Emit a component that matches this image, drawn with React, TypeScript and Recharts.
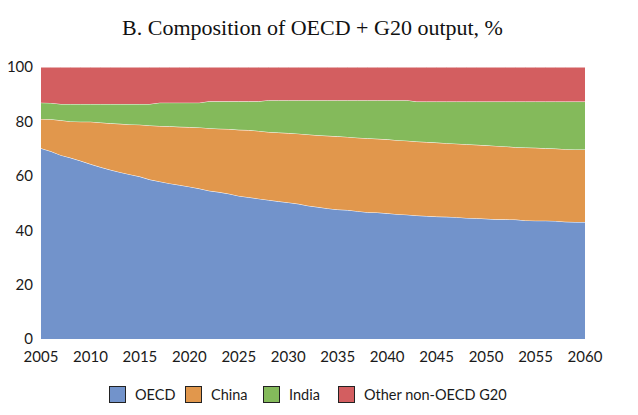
import { Area, AreaChart, XAxis, YAxis } from "recharts";

const years = [
  2005, 2006, 2007, 2008, 2009, 2010, 2011, 2012, 2013, 2014,
  2015, 2016, 2017, 2018, 2019, 2020, 2021, 2022, 2023, 2024,
  2025, 2026, 2027, 2028, 2029, 2030, 2031, 2032, 2033, 2034,
  2035, 2036, 2037, 2038, 2039, 2040, 2041, 2042, 2043, 2044,
  2045, 2046, 2047, 2048, 2049, 2050, 2051, 2052, 2053, 2054,
  2055, 2056, 2057, 2058, 2059, 2060,
];

// shares of OECD + G20 output, %
const oecd = [
  70.1, 69.0, 67.6, 66.6, 65.5, 64.3, 63.2, 62.2, 61.3, 60.5,
  59.7, 58.6, 57.9, 57.2, 56.6, 56.0, 55.3, 54.5, 54.0, 53.4,
  52.6, 52.1, 51.6, 51.1, 50.6, 50.2, 49.7, 49.0, 48.5, 48.0,
  47.6, 47.4, 47.0, 46.6, 46.5, 46.2, 45.9, 45.7, 45.4, 45.2,
  45.0, 44.9, 44.8, 44.5, 44.4, 44.2, 44.0, 44.0, 43.9, 43.6,
  43.5, 43.5, 43.4, 43.1, 43.0, 43.0,
];
const china = [
  10.8, 11.8, 12.8, 13.4, 14.4, 15.6, 16.4, 17.1, 17.8, 18.4,
  19.1, 19.9, 20.4, 21.0, 21.4, 21.9, 22.5, 23.0, 23.3, 23.8,
  24.3, 24.7, 24.9, 25.0, 25.3, 25.5, 25.8, 26.2, 26.4, 26.7,
  26.9, 26.9, 27.0, 27.2, 27.1, 27.2, 27.2, 27.2, 27.2, 27.2,
  27.2, 27.1, 27.0, 27.1, 27.0, 27.0, 27.0, 26.8, 26.6, 26.8,
  26.8, 26.6, 26.6, 26.7, 26.7, 26.7,
];
const india = [
  6.0, 6.0, 6.0, 6.4, 6.5, 6.5, 6.8, 7.1, 7.3, 7.5,
  7.6, 7.9, 8.6, 8.7, 8.9, 9.0, 9.1, 9.9, 10.1, 10.2,
  10.5, 10.6, 10.9, 11.7, 11.9, 12.1, 12.3, 12.6, 12.9, 13.1,
  13.3, 13.5, 13.8, 14.0, 14.2, 14.4, 14.7, 14.9, 14.7, 14.9,
  15.1, 15.3, 15.5, 15.7, 15.9, 16.1, 16.3, 16.5, 16.8, 16.9,
  17.0, 17.2, 17.3, 17.5, 17.6, 17.6,
];
const other = [
  13.1, 13.2, 13.6, 13.6, 13.6, 13.6, 13.6, 13.6, 13.6, 13.6,
  13.6, 13.6, 13.1, 13.1, 13.1, 13.1, 13.1, 12.6, 12.6, 12.6,
  12.6, 12.6, 12.6, 12.2, 12.2, 12.2, 12.2, 12.2, 12.2, 12.2,
  12.2, 12.2, 12.2, 12.2, 12.2, 12.2, 12.2, 12.2, 12.7, 12.7,
  12.7, 12.7, 12.7, 12.7, 12.7, 12.7, 12.7, 12.7, 12.7, 12.7,
  12.7, 12.7, 12.7, 12.7, 12.7, 12.7,
];

const xTicks = [2005, 2010, 2015, 2020, 2025, 2030, 2035, 2040, 2045, 2050, 2055, 2060];
const yTicks = [0, 20, 40, 60, 80, 100];

const series = [
  { key: "oecd", name: "OECD", color: "#7293CB", left: 109 },
  { key: "china", name: "China", color: "#E1974C", left: 185 },
  { key: "india", name: "India", color: "#84BA5B", left: 263 },
  { key: "other", name: "Other non-OECD G20", color: "#D35E60", left: 338 },
];

const data = years.map((year, i) => ({
  year,
  oecd: oecd[i],
  china: china[i],
  india: india[i],
  other: other[i],
}));

const tickStyle = { fontSize: 15, fill: "#1a1a1a", fontFamily: "Lato" };

export default function App() {
  return (
    <div style={{ position: "absolute", left: 0, top: 0, width: 638, height: 415, background: "#fff" }}>
      <div
        style={{
          position: "absolute",
          top: 15,
          left: 0,
          width: 625,
          textAlign: "center",
          fontFamily: "Liberation Serif",
          fontSize: 22,
          color: "#111",
        }}
      >
        B. Composition of OECD + G20 output, %
      </div>
      <AreaChart width={638} height={415} data={data} margin={{ top: 67, right: 8, bottom: 46, left: 5 }}>
        <XAxis
          dataKey="year"
          type="number"
          domain={[2005, 2060]}
          ticks={xTicks}
          tick={tickStyle}
          tickLine={false}
          axisLine={false}
          tickMargin={6}
          height={30}
        />
        <YAxis
          yAxisId="left"
          domain={[0, 100]}
          ticks={yTicks}
          tick={tickStyle}
          tickLine={false}
          axisLine={false}
          width={36}
        />
        <YAxis
          yAxisId="right"
          orientation="right"
          domain={[0, 100]}
          ticks={yTicks}
          tick={{ ...tickStyle, textAnchor: "start" }}
          tickLine={false}
          axisLine={false}
          width={45}
        />
        {series.map((s) => (
          <Area
            key={s.key}
            yAxisId="left"
            type="linear"
            dataKey={s.key}
            name={s.name}
            stackId="1"
            fill={s.color}
            fillOpacity={1}
            stroke="#fff"
            strokeWidth={1}
            isAnimationActive={false}
          />
        ))}
      </AreaChart>
      {series.map((s) => (
        <div
          key={s.key}
          style={{
            position: "absolute",
            top: 386,
            left: s.left,
            display: "flex",
            alignItems: "center",
            fontFamily: "Lato",
            fontSize: 14.5,
            color: "#1a1a1a",
            whiteSpace: "nowrap",
          }}
        >
          <span
            style={{
              display: "inline-block",
              width: 15,
              height: 15,
              background: s.color,
              border: "1px solid #222",
              marginRight: 9,
            }}
          />
          <span>{s.name}</span>
        </div>
      ))}
    </div>
  );
}
